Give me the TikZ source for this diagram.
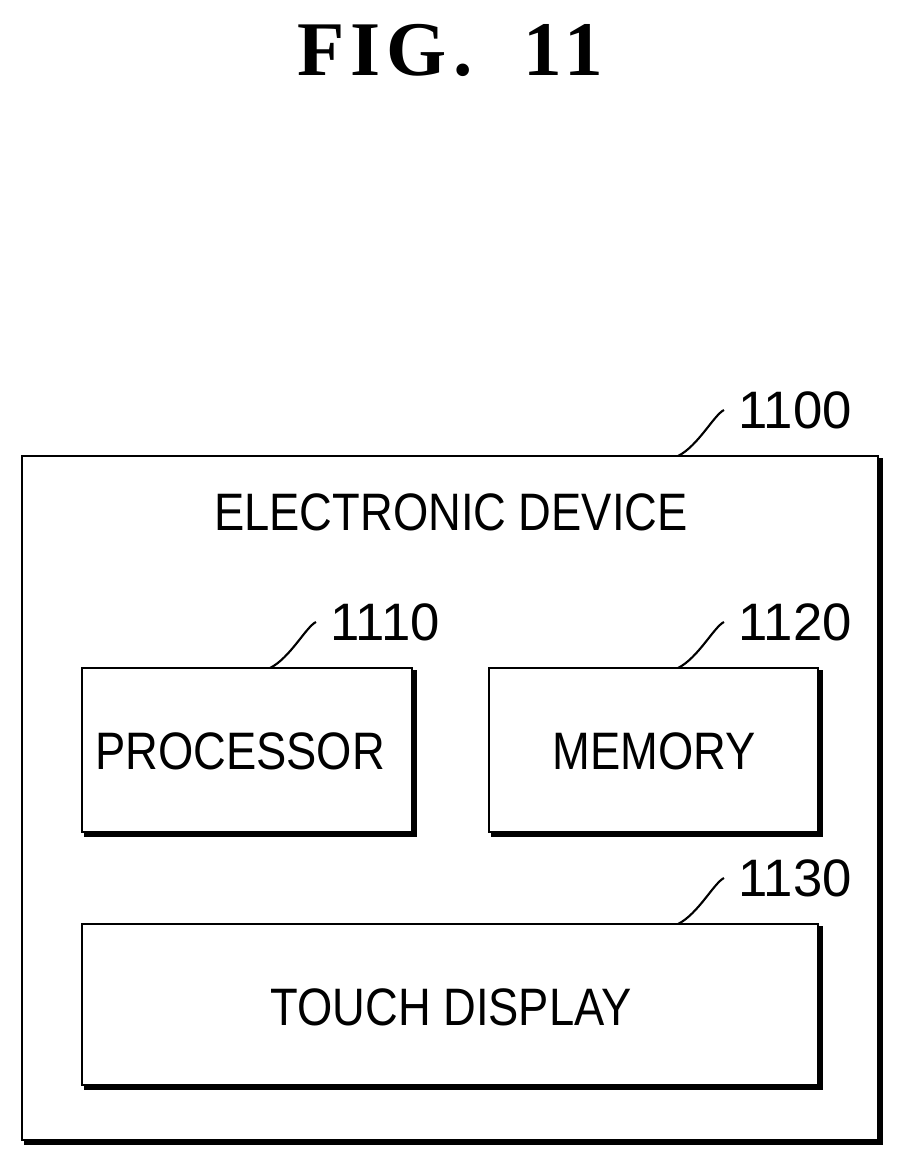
\documentclass[tikz,border=0pt]{standalone}
\usepackage{fontspec}
\setmainfont{Liberation Sans}
\newfontfamily\titlefont[LetterSpace=8]{Liberation Serif}
\newcommand{\cond}[1]{\scalebox{0.86}[1]{#1}}
\tikzset{
  blk/.style={draw, line width=1.6pt},
  shadow/.style={line width=3pt},
  lead/.style={line width=1.2pt},
  lbl/.style={font=\fontsize{30}{36}\selectfont, inner sep=0pt},
  num/.style={font=\fontsize{30}{36}\selectfont, inner sep=0pt, anchor=west}
}
\begin{document}
\begin{tikzpicture}[x=0.02cm,y=-0.02cm]
  \useasboundingbox (0,0) rectangle (904,1167);
  \node[font=\titlefont\bfseries\fontsize{44}{52}\selectfont] (title) at (450,50) {FIG.\ \ 11};
  % boxes
  \draw[blk] (22,456) rectangle (878,1140);
  \draw[shadow] (880,458) -- (880,1142) -- (24,1142);
  \draw[blk] (82,668) rectangle (412,832);
  \draw[shadow] (414,670) -- (414,834) -- (84,834);
  \draw[blk] (489,668) rectangle (818,832);
  \draw[shadow] (820,670) -- (820,834) -- (491,834);
  \draw[blk] (82,924) rectangle (818,1085);
  \draw[shadow] (820,926) -- (820,1087) -- (84,1087);
  % texts
  \node[lbl] (dev) at (451,512) {\cond{ELECTRONIC DEVICE}};
  \node[lbl] (proc) at (240,751) {\cond{PROCESSOR}};
  \node[lbl] (mem) at (654,751) {\cond{MEMORY}};
  \node[lbl] (touch) at (451,1007) {\cond{TOUCH DISPLAY}};
  % reference numbers
  \node[num] (n1100) at (738,410) {1100};
  \node[num] (n1110) at (330,622) {1110};
  \node[num] (n1120) at (738,622) {1120};
  \node[num] (n1130) at (738,878) {1130};
  \coordinate (c1100) at (678,456);
  \coordinate (c1110) at (270,668);
  \coordinate (c1120) at (678,668);
  \coordinate (c1130) at (678,924);
  \draw[lead] (c1100) .. controls +(20,-10) and +(-10,5) .. ([xshift=-8]n1100.west);
  \draw[lead] (c1110) .. controls +(20,-10) and +(-10,5) .. ([xshift=-8]n1110.west);
  \draw[lead] (c1120) .. controls +(20,-10) and +(-10,5) .. ([xshift=-8]n1120.west);
  \draw[lead] (c1130) .. controls +(20,-10) and +(-10,5) .. ([xshift=-8]n1130.west);
\end{tikzpicture}
\end{document}
